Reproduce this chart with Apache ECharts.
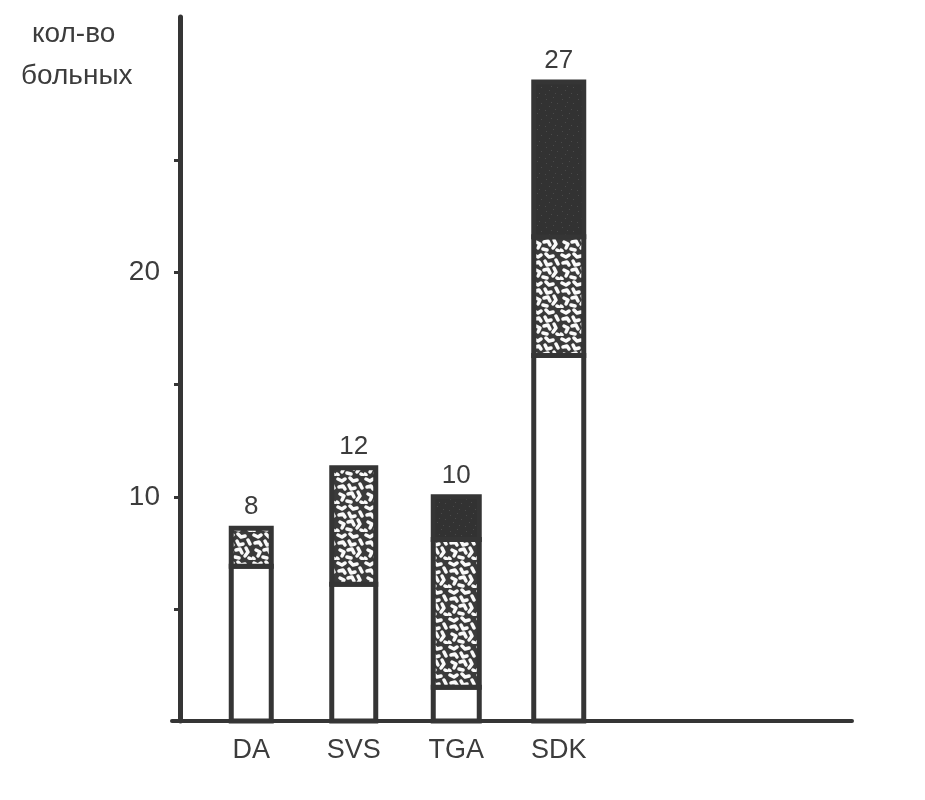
<!DOCTYPE html>
<html>
<head>
<meta charset="utf-8">
<script src="https://cdn.jsdelivr.net/npm/echarts@6/dist/echarts.min.js"></script>
<style>html,body{margin:0;padding:0;background:#fff;}#c{width:925px;height:800px;}</style>
</head>
<body>
<div id="c"></div>
<script>
// ---- data ----
const categories = ['DA', 'SVS', 'TGA', 'SDK'];
const whiteTop   = [6.9, 6.1, 1.5, 16.3];   // white segment from 0 to this
const dottedTop  = [8.6, 11.3, 8.1, 21.6];  // dotted segment up to this
const darkTop    = [8.6, 11.3, 10.0, 28.5]; // dark segment up to this (equal = none)
const valueLabels = ['8', '12', '10', '27'];
const yTickValues = [5, 10, 15, 20, 25];
const yLabelValues = [10, 20];
const yTitle = ['кол-во', 'больных'];

// ---- style ----
const barWidths = [40, 44, 46, 50];
const ink = '#353535';
const textColor = '#3c3c3c';
const font = 'Liberation Sans, Arial, sans-serif';

function makeDottedPattern() {
  const c = document.createElement('canvas');
  c.width = 28; c.height = 28;
  const g = c.getContext('2d');
  g.fillStyle = '#3a3a3a';
  g.fillRect(0, 0, 28, 28);
  g.strokeStyle = '#fafafa';
  g.lineCap = 'round';
  g.lineJoin = 'round';
  g.lineWidth = 3.5;
  const worms = [
    [[2,3],[6,5],[9,3]], [[14,2],[17,5],[21,4]], [[24,8],[26,12]],
    [[3,11],[7,10],[9,13]], [[13,9],[15,13],[19,12]], [[4,18],[8,20],[6,24]],
    [[12,18],[16,17],[18,21]], [[22,16],[24,20],[21,24]], [[11,25],[15,26]],
    [[1,26],[2,27]], [[25,26],[27,27]]
  ];
  worms.forEach(w => {
    g.beginPath();
    g.moveTo(w[0][0], w[0][1]);
    for (let i = 1; i < w.length; i++) g.lineTo(w[i][0], w[i][1]);
    g.stroke();
  });
  return c;
}
function makeDarkPattern() {
  const c = document.createElement('canvas');
  c.width = 16; c.height = 16;
  const g = c.getContext('2d');
  g.fillStyle = '#323232';
  g.fillRect(0, 0, 16, 16);
  g.fillStyle = '#4a4a4a';
  [[2,3],[9,1],[13,7],[5,10],[11,13],[1,14],[7,6]].forEach(p => g.fillRect(p[0], p[1], 1, 1));
  return c;
}

const dottedFill = { image: makeDottedPattern(), repeat: 'repeat' };
const darkFill = { image: makeDarkPattern(), repeat: 'repeat' };

function segData(lows, highs) {
  const out = [];
  categories.forEach((c, i) => { if (highs[i] > lows[i]) out.push([i, lows[i], highs[i]]); });
  return out;
}
const zeros = categories.map(() => 0);

function makeRender(fill) {
  return function (params, api) {
    const cat = api.value(0);
    const p0 = api.coord([cat, api.value(1)]);
    const p1 = api.coord([cat, api.value(2)]);
    const w = barWidths[cat];
    return {
      type: 'rect',
      shape: { x: p0[0] - w / 2, y: p1[1], width: w, height: p0[1] - p1[1] },
      style: { fill: fill, stroke: ink, lineWidth: 5 }
    };
  };
}

const chart = echarts.init(document.getElementById('c'));
chart.setOption({
  backgroundColor: '#ffffff',
  animation: false,
  title: [
    { text: yTitle[0], left: 27, top: 15, textStyle: { fontFamily: font, fontSize: 28, fontWeight: 'normal', color: textColor } },
    { text: yTitle[1], left: 16, top: 57, textStyle: { fontFamily: font, fontSize: 28, fontWeight: 'normal', color: textColor } }
  ],
  grid: [
    { left: 200, right: 315, top: 17, bottom: 79 },
    { left: 172, right: 73, top: 17, bottom: 79 }
  ],
  xAxis: [
    {
      type: 'category', gridIndex: 0, data: categories,
      axisLine: { show: false }, axisTick: { show: false },
      axisLabel: { fontFamily: font, fontSize: 27, color: textColor, margin: 16 }
    },
    {
      type: 'value', gridIndex: 1, min: 0, max: 1,
      axisLine: { show: true, lineStyle: { color: ink, width: 4 } },
      axisTick: { show: false }, axisLabel: { show: false }, splitLine: { show: false }
    }
  ],
  yAxis: [
    {
      type: 'value', gridIndex: 0, min: 0, max: 31.4, offset: 20,
      axisLine: { show: true, lineStyle: { color: ink, width: 5 } },
      axisTick: { show: true, customValues: yTickValues, length: 6, lineStyle: { color: ink, width: 3 } },
      axisLabel: { customValues: yLabelValues, fontFamily: font, fontSize: 28, color: textColor, margin: 20 },
      splitLine: { show: false }
    },
    { type: 'value', gridIndex: 1, min: 0, max: 1, show: false }
  ],
  series: [
    { type: 'custom', name: 'white', xAxisIndex: 0, yAxisIndex: 0, renderItem: makeRender('#ffffff'),
      data: segData(zeros, whiteTop), encode: { x: 0, y: [1, 2] } },
    { type: 'custom', name: 'dotted', xAxisIndex: 0, yAxisIndex: 0, renderItem: makeRender(dottedFill),
      data: segData(whiteTop, dottedTop), encode: { x: 0, y: [1, 2] } },
    { type: 'custom', name: 'dark', xAxisIndex: 0, yAxisIndex: 0, renderItem: makeRender(darkFill),
      data: segData(dottedTop, darkTop), encode: { x: 0, y: [1, 2] } },
    { type: 'custom', name: 'labels', xAxisIndex: 0, yAxisIndex: 0,
      data: categories.map((c, i) => [i, darkTop[i]]),
      encode: { x: 0, y: 1 },
      renderItem: function (params, api) {
        const cat = api.value(0);
        const p = api.coord([cat, api.value(1)]);
        return {
          type: 'text',
          style: { x: p[0], y: p[1] - 8, text: valueLabels[cat], align: 'center', verticalAlign: 'bottom',
                   font: '26px ' + font, fill: textColor }
        };
      }
    }
  ]
});
</script>
</body>
</html>
